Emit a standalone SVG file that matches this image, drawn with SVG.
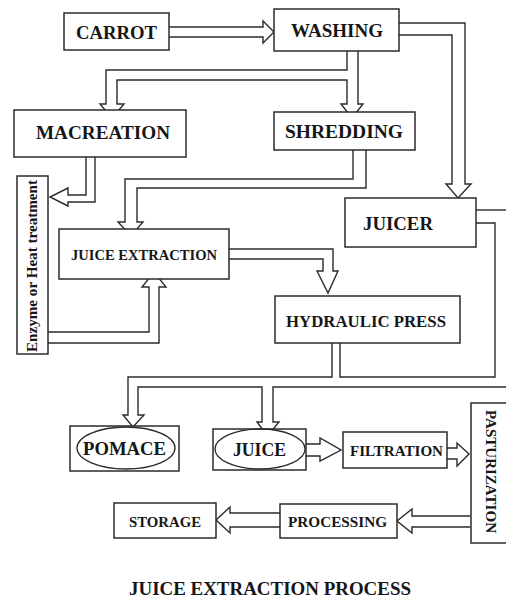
<svg xmlns="http://www.w3.org/2000/svg" width="506" height="599" viewBox="0 0 506 599">
<style>
.c{fill:none;stroke:#2b2b2b;stroke-width:1.4;stroke-linejoin:miter}
.b{fill:#fff;stroke:#2b2b2b;stroke-width:1.5}
.e{fill:none;stroke:#2b2b2b;stroke-width:1.3}
text{font-family:"Liberation Serif","Times New Roman",serif;font-weight:bold;fill:#161616}
</style>
<rect width="506" height="599" fill="#fff"/>
<g id="connectors">
<polyline class="c" points="169,27 263,27 263,21 274,32 263,43 263,37 169,37"/>
<polyline class="c" points="399,23 465,23 465,184 471,184 458,198 446,184 452,184 452,35 399,35"/>
<polyline class="c" points="347,51 347,70 106,70 106,104 100,104 112,118 124,104 117,104 117,80 347,80 347,104 341,104 352,118 363,104 358,104 358,51"/>
<polyline class="c" points="86,157 86,195 68,195 68,188 50,197 68,206 68,202 95,202 95,157"/>
<polyline class="c" points="353,150 353,179 125,179 125,222 118,222 131,236 143,222 137,222 137,188 366,188 366,150"/>
<polyline class="c" points="229,249 333,249 333,271 338,271 328,293 317,271 323,271 323,259 229,259"/>
<polyline class="c" points="48,332 149,332 149,287 142,287 154,272 166,287 159,287 159,343 48,343"/>
<polyline class="c" points="476,210 506,210"/>
<polyline class="c" points="476,223 495,223 495,377 340,377 340,343"/>
<polyline class="c" points="332,343 332,377 128,377 128,415 123,415 133,427 144,415 138,415 138,387 262,387 262,422 257,422 267.5,436 279,422 273,422 273,387 506,387"/>
<polyline class="c" points="306,444 320,444 320,438 341,450 320,461 320,456 306,456"/>
<polyline class="c" points="447,448 457,448 457,443 469,454 457,466 457,459 447,459"/>
<polyline class="c" points="470,516 412,516 412,509 397,521 412,533 412,527 470,527"/>
<polyline class="c" points="280,513 230,513 230,507 216,520 230,533 230,527 280,527"/>
</g>
<g id="carrot"><rect class="b" x="64" y="13" width="105" height="37"/><text x="76" y="39" font-size="18" textLength="81" lengthAdjust="spacingAndGlyphs">CARROT</text></g>
<g id="washing"><rect class="b" x="274" y="9" width="125" height="42"/><text x="291" y="37" font-size="18" textLength="92" lengthAdjust="spacingAndGlyphs">WASHING</text></g>
<g id="macreation"><rect class="b" x="14" y="110" width="172" height="47"/><text x="36" y="139" font-size="18" textLength="134" lengthAdjust="spacingAndGlyphs">MACREATION</text></g>
<g id="shredding"><rect class="b" x="274" y="112" width="141" height="38"/><text x="285" y="138" font-size="18" textLength="118" lengthAdjust="spacingAndGlyphs">SHREDDING</text></g>
<g id="juicer"><rect class="b" x="345" y="198" width="131" height="49"/><text x="363" y="230" font-size="18" textLength="70" lengthAdjust="spacingAndGlyphs">JUICER</text></g>
<g id="enzyme"><rect class="b" x="17" y="176" width="31" height="178"/><text transform="translate(37,352) rotate(-90)" x="0" y="0" font-size="15" textLength="172" lengthAdjust="spacingAndGlyphs">Enzyme or Heat treatment</text></g>
<g id="juice-extraction"><rect class="b" x="59" y="229" width="170" height="50"/><text x="71" y="260" font-size="15" textLength="146" lengthAdjust="spacingAndGlyphs">JUICE EXTRACTION</text></g>
<g id="hydraulic-press"><rect class="b" x="275" y="296" width="185" height="47"/><text x="286" y="327" font-size="17" textLength="160" lengthAdjust="spacingAndGlyphs">HYDRAULIC PRESS</text></g>
<g id="pomace"><rect class="b" x="70" y="426" width="109" height="45"/><ellipse class="e" cx="126" cy="448" rx="49" ry="21"/><text x="83" y="455" font-size="18" textLength="83" lengthAdjust="spacingAndGlyphs">POMACE</text></g>
<g id="juice"><rect class="b" x="213" y="429" width="93" height="41"/><ellipse class="e" cx="260" cy="449" rx="45" ry="20"/><text x="233" y="456" font-size="18" textLength="53" lengthAdjust="spacingAndGlyphs">JUICE</text></g>
<g id="filtration"><rect class="b" x="343" y="432" width="104" height="36"/><text x="350" y="456" font-size="15" textLength="93" lengthAdjust="spacingAndGlyphs">FILTRATION</text></g>
<g id="pasturization"><rect class="b" x="471" y="403" width="45" height="140"/><text transform="translate(486,410) rotate(90)" x="0" y="0" font-size="14.5" textLength="123" lengthAdjust="spacingAndGlyphs">PASTURIZATION</text></g>
<g id="processing"><rect class="b" x="280" y="504" width="117" height="34"/><text x="288" y="527" font-size="15" textLength="99" lengthAdjust="spacingAndGlyphs">PROCESSING</text></g>
<g id="storage"><rect class="b" x="114" y="503" width="102" height="35"/><text x="129" y="527" font-size="15" textLength="72" lengthAdjust="spacingAndGlyphs">STORAGE</text></g>
<g id="title"><text x="129" y="595" font-size="18" textLength="282" lengthAdjust="spacingAndGlyphs">JUICE EXTRACTION PROCESS</text></g>
</svg>
